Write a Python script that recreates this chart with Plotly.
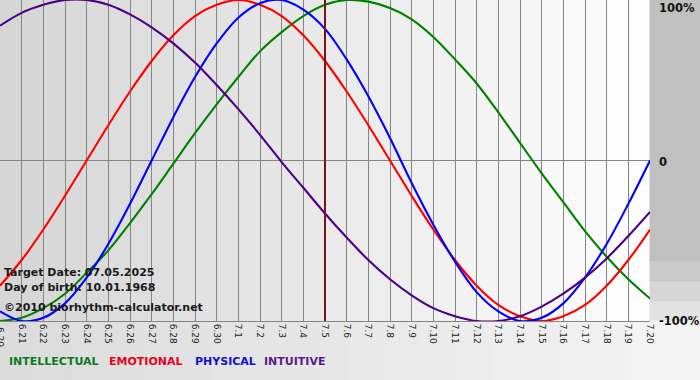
import plotly.graph_objects as go

# Day labels (x axis categories)
days = ["6.20", "6.21", "6.22", "6.23", "6.24", "6.25", "6.26", "6.27", "6.28", "6.29", "6.30",
        "7.1", "7.2", "7.3", "7.4", "7.5", "7.6", "7.7", "7.8", "7.9", "7.10",
        "7.11", "7.12", "7.13", "7.14", "7.15", "7.16", "7.17", "7.18", "7.19", "7.20"]

# Values (fraction of 100%)
intellectual = [-1.00, -0.98, -0.92, -0.83, -0.70, -0.56, -0.39, -0.21, -0.02, 0.17, 0.35,
                0.52, 0.68, 0.80, 0.90, 0.97, 1.00, 0.99, 0.95, 0.88, 0.77,
                0.63, 0.48, 0.30, 0.11, -0.08, -0.26, -0.44, -0.60, -0.74, -0.86]
emotional = [-0.78, -0.62, -0.43, -0.22, 0.00, 0.22, 0.43, 0.62, 0.78, 0.90, 0.97,
             1.00, 0.97, 0.90, 0.78, 0.62, 0.43, 0.22, 0.00, -0.22, -0.43,
             -0.62, -0.78, -0.90, -0.97, -1.00, -0.97, -0.90, -0.78, -0.62, -0.43]
physical = [-0.94, -1.00, -0.98, -0.89, -0.73, -0.52, -0.27, 0.00, 0.27, 0.52, 0.73,
            0.89, 0.98, 1.00, 0.94, 0.82, 0.63, 0.40, 0.14, -0.14, -0.40,
            -0.63, -0.82, -0.94, -1.00, -0.98, -0.89, -0.73, -0.52, -0.27, 0.00]
intuitive = [0.84, 0.92, 0.97, 1.00, 1.00, 0.97, 0.91, 0.83, 0.73, 0.61, 0.47,
             0.32, 0.16, -0.01, -0.17, -0.33, -0.48, -0.62, -0.74, -0.84, -0.92,
             -0.97, -1.00, -1.00, -0.97, -0.91, -0.83, -0.73, -0.61, -0.47, -0.32]

target_index = 15  # 7.5

series = [
    ("INTELLECTUAL", intellectual, "#008000"),
    ("EMOTIONAL", emotional, "#ff0000"),
    ("PHYSICAL", physical, "#0000ff"),
    ("INTUITIVE", intuitive, "#4b0082"),
]
legend_colors = {"INTELLECTUAL": "#0a7a1e", "EMOTIONAL": "#e8001c",
                 "PHYSICAL": "#1010c8", "INTUITIVE": "#5a1a86"}

W, H = 700, 380
PW, PH = 650, 321

x = list(range(len(days)))
fig = go.Figure()
for name, vals, col in series:
    fig.add_trace(go.Scatter(x=x, y=vals, mode="lines", name=name,
                             line=dict(color=col, width=2.1, shape="spline", smoothing=1.0),
                             hoverinfo="skip", cliponaxis=True))

shapes = []
# Column shading inside plot (gray left -> white right)
n = len(days) - 1
for i in range(n):
    t = i / (n - 1)
    v = int(round(0xd6 + (0xfd - 0xd6) * t))
    shapes.append(dict(type="rect", xref="x", yref="paper", x0=i, x1=i + 1, y0=0, y1=1,
                       fillcolor=f"rgb({v},{v},{v})", line=dict(width=0), layer="below"))
# Right strip (gray, fading near the bottom)
rx0 = 1.0
rx1 = W / PW
steps = 16
ov = 0.004
for k in range(steps):
    y0 = k / steps
    y1 = (k + 1) / steps + ov
    t = k / (steps - 1)
    v = int(round(0xe2 + (0xc0 - 0xe2) * min(1.0, t * 5.0)))
    shapes.append(dict(type="rect", xref="paper", yref="paper", x0=rx0, x1=rx1, y0=y0, y1=y1,
                       fillcolor=f"rgb({v},{v},{v})", line=dict(color=f"rgb({v},{v},{v})", width=1),
                       layer="below"))
# Bottom band
by0 = -(H - PH) / PH
for k in range(20):
    x0 = k / 20 * rx1
    x1 = (k + 1) / 20 * rx1
    t = k / 19
    v = int(round(0xdc + (0xf4 - 0xdc) * t))
    shapes.append(dict(type="rect", xref="paper", yref="paper", x0=x0, x1=x1, y0=by0, y1=0,
                       fillcolor=f"rgb({v},{v},{v})", line=dict(color=f"rgb({v},{v},{v})", width=1),
                       layer="below"))
# Target date marker
shapes.append(dict(type="line", xref="x", yref="paper", x0=target_index, x1=target_index,
                   y0=0, y1=1, line=dict(color="#7a1414", width=2), layer="above"))

annotations = []
font_b = "DejaVu Sans"
# First tick label (partly off the left edge, as in the original)
annotations.append(dict(text=days[0], xref="x", yref="paper", x=0, y=-4 / PH, textangle=90,
                        xanchor="center", yanchor="top", showarrow=False,
                        font=dict(family="DejaVu Sans", size=9, color="#222222")))
# Right axis labels
for txt, yy in [("100%", (PH - 8) / PH), ("0", (PH - 162) / PH), ("-100%", (PH - 321) / PH)]:
    annotations.append(dict(text=f"<b>{txt}</b>", xref="paper", yref="paper", x=657 / PW, y=yy,
                            xanchor="left", yanchor="middle", showarrow=False,
                            font=dict(family=font_b, size=11.5, color="#111111")))
# Info text
for txt, yc in [("Target Date: 07.05.2025", 272), ("Day of birth: 10.01.1968", 287),
                ("©2010 biorhythm-calculator.net", 307)]:
    annotations.append(dict(text=f"<b>{txt}</b>", xref="paper", yref="paper", x=2 / PW,
                            y=(PH - yc) / PH, xanchor="left", yanchor="middle", showarrow=False,
                            font=dict(family=font_b, size=11, color="#1a1a1a")))
# Legend
leg_x = {"INTELLECTUAL": 7, "EMOTIONAL": 107, "PHYSICAL": 193, "INTUITIVE": 262}
for name, vals, col in series:
    annotations.append(dict(text=f"<b>{name}</b>", xref="paper", yref="paper",
                            x=leg_x[name] / PW, y=(PH - 362) / PH, xanchor="left", yanchor="middle",
                            showarrow=False,
                            font=dict(family=font_b, size=11, color=legend_colors[name])))

fig.update_layout(
    width=W, height=H,
    margin=dict(l=0, r=W - PW, t=0, b=H - PH, pad=0, autoexpand=False),
    paper_bgcolor="#eeeeee", plot_bgcolor="rgba(0,0,0,0)",
    showlegend=False,
    shapes=shapes, annotations=annotations,
    xaxis=dict(range=[0, n], tickmode="array", tickvals=x, ticktext=days, tickangle=90,
               automargin=False,
               showgrid=True, gridcolor="#858585", gridwidth=1, zeroline=False,
               showline=True, mirror=True, linecolor="#858585", linewidth=1,
               ticks="", tickfont=dict(family="DejaVu Sans", size=9, color="#222222")),
    yaxis=dict(range=[-1, 1], tickvals=[0], showticklabels=False, showgrid=True,
               automargin=False,
               gridcolor="#858585", gridwidth=1, zeroline=False, showline=False),
)

fig.write_html("out.html", config={"displayModeBar": False},
               post_script="document.body.style.margin='0';document.body.style.padding='0';")
